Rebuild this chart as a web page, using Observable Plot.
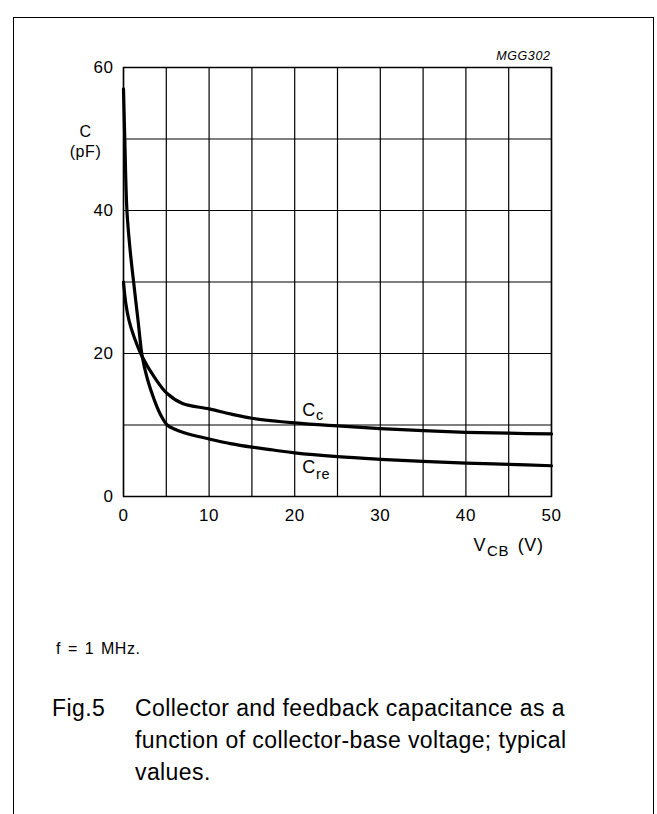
<!DOCTYPE html>
<html>
<head>
<meta charset="utf-8">
<script src="https://cdn.jsdelivr.net/npm/d3@7"></script>
<script src="https://cdn.jsdelivr.net/npm/@observablehq/plot@0.6"></script>
<style>
  html, body { margin: 0; padding: 0; background: #fff; }
  body { font-family: "Liberation Sans", Arial, Helvetica, sans-serif; color: #000; }
  #page { position: relative; width: 657px; height: 814px; overflow: hidden; }
  #border { position: absolute; left: 13px; top: 17px; width: 641px; height: 900px;
            box-sizing: border-box; border: 1.5px solid #000; }
  #chart { position: absolute; left: 0; top: 0; }
  .note { position: absolute; left: 56px; top: 640px; font-size: 16px; line-height: 18px;
          letter-spacing: 0.5px; word-spacing: 2px; white-space: nowrap; }
  .fig { position: absolute; left: 52px; top: 692px; font-size: 23px; line-height: 32px;
         letter-spacing: 0.4px; white-space: nowrap; }
  .caption { position: absolute; left: 135px; top: 692px; font-size: 23px; line-height: 32px;
             letter-spacing: 0.4px; white-space: nowrap; }
  #chart svg text { letter-spacing: 0.6px; }
</style>
</head>
<body>
<div id="page">
  <div id="border"></div>
  <div id="chart"></div>
  <div class="note">f = 1 MHz.</div>
  <div class="fig">Fig.5</div>
  <div class="caption">Collector and feedback capacitance as a<br>function of collector-base voltage; typical<br>values.</div>
</div>
<script>
// ---- data ----
const ccVoltage = [0, 0.27, 0.65, 1.24, 2.2, 3.6, 5.1, 6.9, 10, 12.5, 15, 20, 25, 30, 35, 40, 45, 50];
const ccCap     = [30, 27, 24.6, 22.3, 19.5, 16.7, 14.4, 13.0, 12.25, 11.55, 10.95, 10.3, 9.87, 9.5, 9.2, 8.98, 8.85, 8.75];

const creVoltage = [0, 0.15, 0.4, 0.77, 1.2, 1.7, 2.2, 2.8, 3.6, 4.3, 5.1, 6.0, 7.0, 8.0, 10, 12.5, 15, 17.5, 20, 25, 30, 35, 40, 45, 50];
const creCap     = [57, 50, 40, 34.5, 29.8, 24.6, 19.5, 16.4, 13.5, 11.5, 10.0, 9.4, 8.95, 8.6, 8.05, 7.4, 6.9, 6.5, 6.1, 5.57, 5.2, 4.9, 4.68, 4.5, 4.3];

const xTicks = [0, 10, 20, 30, 40, 50];
const yTicks = [0, 20, 40, 60];
const xGrid = [0, 5, 10, 15, 20, 25, 30, 35, 40, 45, 50];
const yGrid = [0, 10, 20, 30, 40, 50, 60];

const cc  = ccVoltage.map((v, i) => ({v, c: ccCap[i]}));
const cre = creVoltage.map((v, i) => ({v, c: creCap[i]}));

const font = "Liberation Sans, Arial, Helvetica, sans-serif";
const lbl = { frameAnchor: "top-left", lineAnchor: "bottom", textAnchor: "start" };

const chart = Plot.plot({
  width: 657,
  height: 560,
  marginLeft: 123,
  marginRight: 106,
  marginTop: 67,
  marginBottom: 64,
  style: { fontFamily: font, fontSize: "17px", color: "#000", background: "transparent", overflow: "visible" },
  x: { domain: [0, 50] },
  y: { domain: [0, 60] },
  marks: [
    Plot.ruleX(xGrid, { stroke: "#000", strokeWidth: 1.2 }),
    Plot.ruleY(yGrid, { stroke: "#000", strokeWidth: 1.2 }),
    Plot.frame({ stroke: "#000", strokeWidth: 1.5 }),
    Plot.axisX(xTicks, { tickSize: 0, tickPadding: 12, label: null, fontSize: 17 }),
    Plot.axisY(yTicks, { tickSize: 0, tickPadding: 10, label: null, fontSize: 17 }),
    Plot.line(cc,  { x: "v", y: "c", curve: "catmull-rom", stroke: "#000", strokeWidth: 3.2 }),
    Plot.line(cre, { x: "v", y: "c", curve: "catmull-rom", stroke: "#000", strokeWidth: 3.2 }),
    // y-axis title
    Plot.text(["C"],    { ...lbl, dx: -38, dy: 69, textAnchor: "middle", fontSize: 16 }),
    Plot.text(["(pF)"], { ...lbl, dx: -38, dy: 89, textAnchor: "middle", fontSize: 16 }),
    // drawing code
    Plot.text(["MGG302"], { ...lbl, dx: 427, dy: -8, textAnchor: "end", fontSize: 12.5, fontStyle: "italic" }),
    // curve labels
    Plot.text(["C"],  { ...lbl, dx: 178.7, dy: 348, fontSize: 18 }),
    Plot.text(["c"],  { ...lbl, dx: 192.5, dy: 352.5, fontSize: 14.5 }),
    Plot.text(["C"],  { ...lbl, dx: 178.7, dy: 405.7, fontSize: 18 }),
    Plot.text(["re"], { ...lbl, dx: 192.5, dy: 411, fontSize: 14.5 }),
    // x-axis title
    Plot.text(["V"],   { ...lbl, dx: 350, dy: 483, fontSize: 18 }),
    Plot.text(["CB"],  { ...lbl, dx: 363.5, dy: 488, fontSize: 15 }),
    Plot.text(["(V)"], { ...lbl, dx: 420, dy: 483, textAnchor: "end", fontSize: 18 })
  ]
});
document.getElementById("chart").appendChild(chart);
</script>
</body>
</html>
